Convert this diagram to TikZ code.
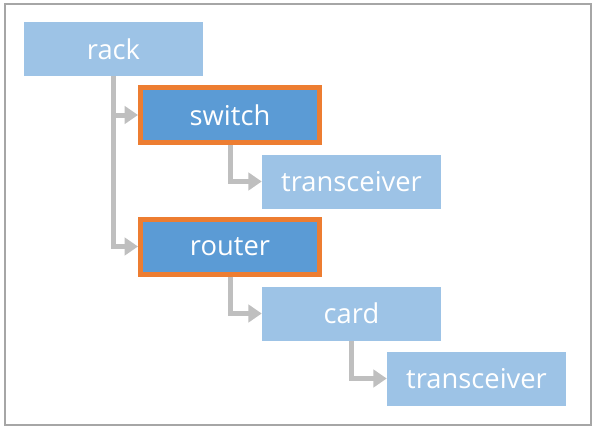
\documentclass[tikz,border=0pt]{standalone}
\usepackage{fontspec}
\setmainfont{Open Sans}
\usetikzlibrary{arrows.meta}
\definecolor{lightblue}{HTML}{9DC3E6}
\definecolor{darkblue}{HTML}{5B9BD5}
\definecolor{orangeb}{HTML}{ED7D31}
\definecolor{conn}{HTML}{BFBFBF}
\definecolor{framec}{HTML}{A6A6A6}
\begin{document}
\begin{tikzpicture}[x=0.75pt,y=-0.75pt,
  box/.style={fill=lightblue,draw=none,minimum width=134.25pt,minimum height=40.5pt,inner sep=0pt,text=white,font=\fontsize{20.5}{24}\selectfont},
  hbox/.style={fill=darkblue,draw=orangeb,line width=3.75pt,minimum width=134.25pt,minimum height=41.25pt,inner sep=0pt,text=white,font=\fontsize{20.5}{24}\selectfont},
  link/.style={draw=conn,line width=3.75pt,-{Triangle[length=10pt,width=13pt]}}]
\useasboundingbox (0,0) rectangle (596,428);
\draw[framec,line width=1pt] (5,4) rectangle (591,425);
\node[box] (rack) at (113.5,49) {rack};
\node[hbox] (switch) at (230,115) {switch};
\node[box] (tr1) at (351.5,181.5) {transceiver};
\node[hbox] (router) at (230,246.5) {router};
\node[box] (card) at (351.5,313.5) {card};
\node[box] (tr2) at (476.5,378.5) {transceiver};
\draw[link] (rack.south) |- (switch.west);
\draw[link] (rack.south) |- (router.west);
\draw[link] (switch.south) |- (tr1.west);
\draw[link] (router.south) |- (card.west);
\draw[link] (card.south) |- (tr2.west);
\end{tikzpicture}
\end{document}
